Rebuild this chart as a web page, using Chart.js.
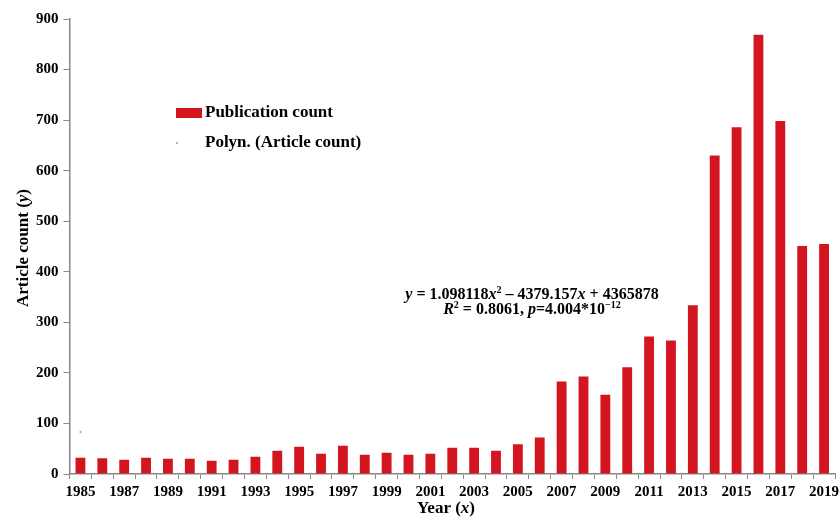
<!DOCTYPE html>
<html>
<head>
<meta charset="utf-8">
<script src="https://cdn.jsdelivr.net/npm/chart.js@4"></script>
<style>
  html, body { margin: 0; padding: 0; background: #fff; }
  #wrap { width: 839px; height: 519px; position: relative; }
</style>
</head>
<body>
<div id="wrap"><canvas id="chart"></canvas></div>
<script>
const years = ['1985','1986','1987','1988','1989','1990','1991','1992','1993','1994','1995','1996','1997','1998','1999','2000','2001','2002','2003','2004','2005','2006','2007','2008','2009','2010','2011','2012','2013','2014','2015','2016','2017','2018','2019'];
const pubCounts = [32,31,28,32,30,30,26,28,34,46,54,40,56,38,42,38,40,52,52,46,59,72,183,193,157,211,272,264,334,630,686,869,698,451,455];
const trendPoints = [83];
const yTicks = [0,100,200,300,400,500,600,700,800,900];
const equationLines = [
  [['y','bi'],[' = 1.098118','b'],['x','bi'],['2','sup'],[' \u2013 4379.157','b'],['x','bi'],[' + 4365878','b']],
  [['R','bi'],['2','sup'],[' = 0.8061, ','b'],['p','bi'],['=4.004*10','b'],['\u221212','sup']]
];

const SERIF = '"Liberation Serif", "Times New Roman", serif';
const barRed = '#d2151f';

// draw a line of mixed bold / italic / superscript text
function drawRuns(ctx, runs, x, y, size, align) {
  const fontOf = (kind) => {
    if (kind === 'sup') return `bold ${Math.round(size * 0.62)}px ${SERIF}`;
    if (kind === 'bi') return `italic bold ${size}px ${SERIF}`;
    return `bold ${size}px ${SERIF}`;
  };
  let total = 0;
  runs.forEach(([t, k]) => { ctx.font = fontOf(k); total += ctx.measureText(t).width; });
  let cx = align === 'center' ? x - total / 2 : x;
  ctx.textBaseline = 'alphabetic';
  ctx.textAlign = 'left';
  runs.forEach(([t, k]) => {
    ctx.font = fontOf(k);
    ctx.fillText(t, cx, k === 'sup' ? y - size * 0.38 : y);
    cx += ctx.measureText(t).width;
  });
}

const annotations = {
  id: 'annotations',
  afterDraw(chart) {
    const ctx = chart.ctx;
    ctx.save();
    ctx.fillStyle = '#000';

    // legend
    const ds = chart.data.datasets;
    ctx.fillStyle = ds[0].backgroundColor;
    ctx.fillRect(176, 108, 26, 10);
    ctx.fillStyle = ds[1].pointBackgroundColor;
    ctx.beginPath(); ctx.arc(177, 143, 1, 0, Math.PI * 2); ctx.fill();
    ctx.fillStyle = '#000';
    ctx.font = `bold 17px ${SERIF}`;
    ctx.textBaseline = 'middle';
    ctx.fillText(ds[0].label, 205, 113);
    ctx.fillText(ds[1].label, 205, 143);

    // equation
    drawRuns(ctx, equationLines[0], 532, 299, 16, 'center');
    drawRuns(ctx, equationLines[1], 532, 314, 16, 'center');

    // axis titles
    drawRuns(ctx, [['Year (','b'],['x','bi'],[')','b']], 446, 513, 17, 'center');
    ctx.translate(28, 248);
    ctx.rotate(-Math.PI / 2);
    drawRuns(ctx, [['Article count (','b'],['y','bi'],[')','b']], 0, 0, 17, 'center');
    ctx.restore();
  }
};

new Chart(document.getElementById('chart'), {
  type: 'bar',
  data: {
    labels: years,
    datasets: [
      { label: 'Publication count', data: pubCounts, backgroundColor: barRed,
        categoryPercentage: 1, barPercentage: 0.45, order: 2 },
      { label: 'Polyn. (Article count)', type: 'line', data: trendPoints,
        borderColor: '#9aa06a', pointBackgroundColor: '#9aa06a', pointBorderWidth: 0,
        pointRadius: 1, showLine: false, order: 1 }
    ]
  },
  options: {
    responsive: true,
    maintainAspectRatio: false,
    animation: false,
    layout: { padding: { top: 19, right: 0, left: 0, bottom: 0 } },
    plugins: { legend: { display: false }, tooltip: { enabled: false } },
    scales: {
      x: {
        grid: { offset: true, drawOnChartArea: false, drawTicks: true, tickLength: 5, color: '#888' },
        border: { color: '#888', width: 1.5 },
        ticks: {
          autoSkip: false, maxRotation: 0, padding: 4, color: '#000',
          font: { family: SERIF, size: 15, weight: 'bold' },
          callback: (v, i) => i % 2 === 0 ? years[i] : ''
        },
        afterFit: s => { s.height = 45; s.paddingLeft = 0; s.paddingRight = 0; }
      },
      y: {
        min: yTicks[0], max: yTicks[yTicks.length - 1],
        afterBuildTicks: s => { s.ticks = yTicks.map(v => ({ value: v })); },
        grid: { drawOnChartArea: false, drawTicks: true, tickLength: 6, color: '#888' },
        border: { color: '#888', width: 1.5 },
        ticks: { padding: 5, color: '#000', font: { family: SERIF, size: 15, weight: 'bold' } },
        afterFit: s => { s.width = 69.5; s.paddingTop = 0; s.paddingBottom = 0; }
      }
    }
  },
  plugins: [annotations]
});
</script>
</body>
</html>
